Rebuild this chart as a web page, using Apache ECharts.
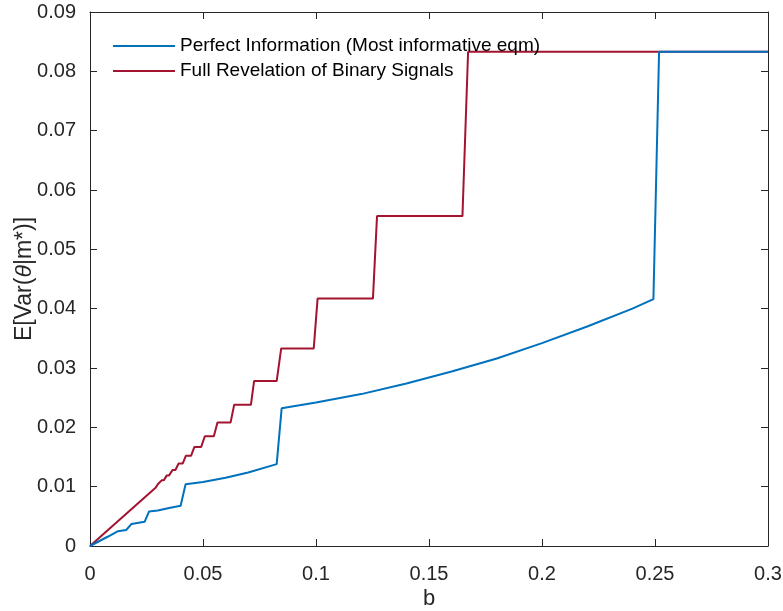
<!DOCTYPE html>
<html>
<head>
<meta charset="utf-8">
<script src="https://cdn.jsdelivr.net/npm/echarts@6/dist/echarts.min.js"></script>
<style>
html,body{margin:0;padding:0;background:#fff;}
#c{width:783px;height:611px;}
</style>
</head>
<body>
<div id="c"></div>
<script>
// Data
const seriesNames = ['Perfect Information (Most informative eqm)', 'Full Revelation of Binary Signals'];
const xTicks = [0, 0.05, 0.1, 0.15, 0.2, 0.25, 0.3];
const yTicks = [0, 0.01, 0.02, 0.03, 0.04, 0.05, 0.06, 0.07, 0.08, 0.09];

const perfectB = [0, 0.004, 0.008, 0.0124, 0.016, 0.0183, 0.0242, 0.0261, 0.030, 0.035, 0.0401, 0.0423, 0.050, 0.060, 0.070, 0.0826, 0.0848, 0.10, 0.12, 0.14, 0.16, 0.18, 0.20, 0.22, 0.24, 0.2493, 0.2518, 0.30];
const perfectV = [0, 0.0008, 0.0016, 0.0025, 0.0027, 0.0037, 0.0041, 0.0058, 0.0060, 0.0064, 0.0068, 0.0104, 0.0108, 0.0115, 0.0124, 0.0138, 0.0232, 0.0242, 0.0256, 0.0274, 0.0294, 0.0316, 0.0342, 0.0370, 0.0400, 0.0416, 0.0833, 0.0833];

const binaryB = [0, 0.0290, 0.0300, 0.0307, 0.0318, 0.0327, 0.0340, 0.0350, 0.0365, 0.0378, 0.0392, 0.0410, 0.0424, 0.0447, 0.0462, 0.0492, 0.0508, 0.0548, 0.0564, 0.0622, 0.0638, 0.0712, 0.0726, 0.0826, 0.0846, 0.0990, 0.1007, 0.1252, 0.1270, 0.1648, 0.1673, 0.30];
const binaryV = [0, 0.0098, 0.0104, 0.0104, 0.0111, 0.0111, 0.0119, 0.0119, 0.0128, 0.0128, 0.0139, 0.0139, 0.0152, 0.0152, 0.0167, 0.0167, 0.0185, 0.0185, 0.0208, 0.0208, 0.0238, 0.0238, 0.0278, 0.0278, 0.0333, 0.0333, 0.0417, 0.0417, 0.0556, 0.0556, 0.0833, 0.0833];

const pair = (xs, ys) => xs.map((x, i) => [x, ys[i]]);
const FONT = '"Liberation Sans", Arial, Helvetica, sans-serif';
const AX = '#262626';
const TXT = '#262626';
const fmt = v => String(+v.toFixed(2));

const chart = echarts.init(document.getElementById('c'), null, {renderer: 'canvas'});
function axis(extra) {
  return Object.assign({
    type: 'value', min: 0,
    axisLine: {show: true, onZero: false, lineStyle: {color: AX, width: 1}},
    axisTick: {show: true, inside: true, length: 7, lineStyle: {color: AX, width: 1}},
    splitLine: {show: false}
  }, extra);
}
chart.setOption({
  animation: false,
  backgroundColor: '#fff',
  grid: {left: 90, right: 15, top: 12, bottom: 65, containLabel: false, outerBoundsMode: 'none'},
  legend: {
    orient: 'vertical', left: 108, top: 31, itemGap: 5,
    itemWidth: 62, itemHeight: 2, icon: 'rect',
    textStyle: {fontFamily: FONT, fontSize: 19, lineHeight: 20, color: '#000'},
    data: seriesNames
  },
  xAxis: [
    axis({
      position: 'bottom', max: 0.3, interval: 0.05,
      axisLabel: {fontFamily: FONT, fontSize: 20, color: TXT, margin: 18, formatter: fmt},
      name: 'b', nameLocation: 'middle', nameGap: 42, nameMoveOverlap: false,
      nameTextStyle: {fontFamily: FONT, fontSize: 22, color: TXT}
    }),
    axis({
      position: 'top', max: 0.3, interval: 0.05,
      axisLabel: {show: false}
    })
  ],
  yAxis: [
    axis({
      position: 'left', max: 0.09, interval: 0.01,
      axisLabel: {fontFamily: FONT, fontSize: 20, color: TXT, margin: 14, formatter: fmt},
      name: 'E[Var({i|θ}|m*)]', nameLocation: 'middle', nameGap: 54, nameRotate: 90,
      nameMoveOverlap: false,
      nameTextStyle: {fontFamily: FONT, fontSize: 23, color: TXT,
        rich: {i: {fontFamily: FONT, fontSize: 23, fontStyle: 'italic', color: TXT}}}
    }),
    axis({
      position: 'right', max: 0.09, interval: 0.01,
      axisLabel: {show: false}
    })
  ],
  series: [
    {
      name: seriesNames[0], type: 'line', xAxisIndex: 0, yAxisIndex: 0,
      data: pair(perfectB, perfectV), showSymbol: false, symbol: 'none',
      lineStyle: {color: '#0072BD', width: 2}, itemStyle: {color: '#0072BD'}, z: 3
    },
    {
      name: seriesNames[1], type: 'line', xAxisIndex: 0, yAxisIndex: 0,
      data: pair(binaryB, binaryV), showSymbol: false, symbol: 'none',
      lineStyle: {color: '#A2142F', width: 2}, itemStyle: {color: '#A2142F'}, z: 2
    }
  ]
});
</script>
</body>
</html>
